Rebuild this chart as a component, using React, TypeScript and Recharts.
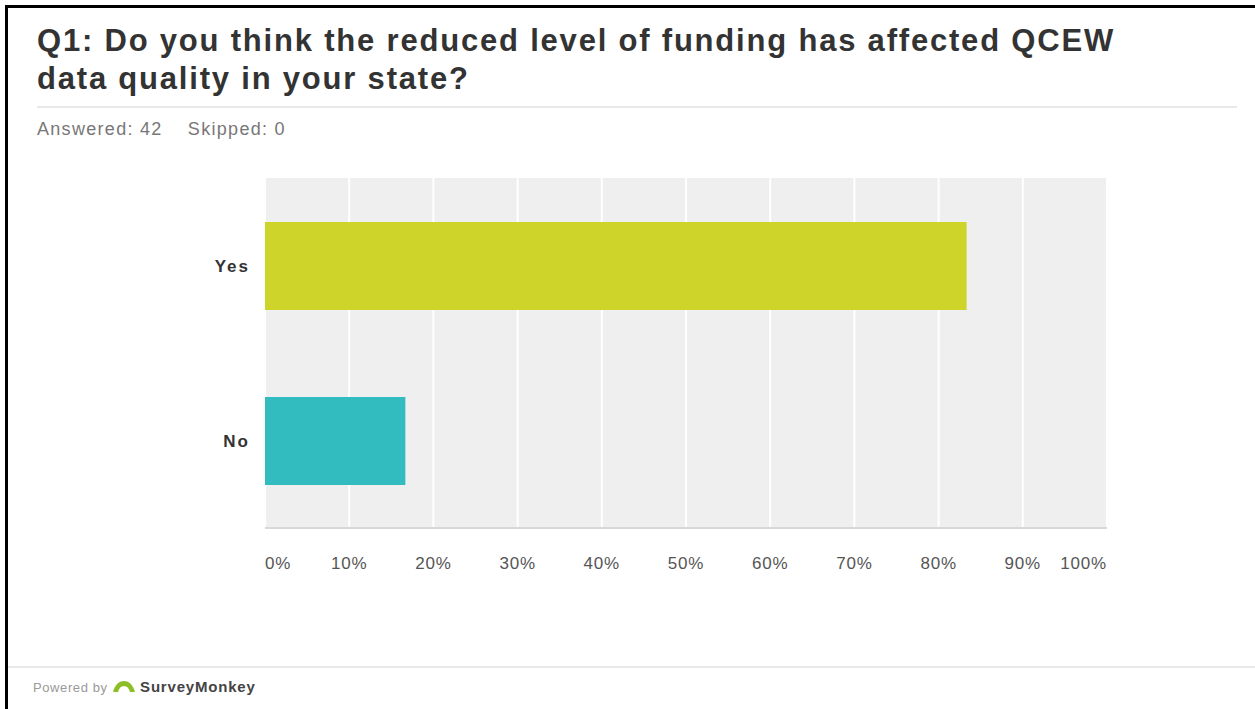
import React from "react";
import { BarChart, Bar, Cell, XAxis, YAxis, CartesianGrid } from "recharts";

const categories = ["Yes", "No"];
const responsePercents = [83.33, 16.67];
const tickValues = [0, 10, 20, 30, 40, 50, 60, 70, 80, 90, 100];
const answered = 42;
const skipped = 0;

const COLORS = ["#ced42a", "#33bcbf"];
const FONT = "'Liberation Sans', Arial, sans-serif";

const chartData = categories.map((name, i) => ({ name, value: responsePercents[i] }));

const PercentTick = ({ x, y, payload }: any) => {
  const v = payload.value;
  const anchor = v === 0 ? "start" : v === 100 ? "end" : "middle";
  return (
    <text
      x={x}
      y={y + 41}
      textAnchor={anchor}
      fontSize={17}
      letterSpacing={0.8}
      fontFamily={FONT}
      fill="#555"
    >
      {`${v}%`}
    </text>
  );
};

const CategoryTick = ({ x, y, payload }: any) => (
  <text
    x={x}
    y={y + 1}
    textAnchor="end"
    dominantBaseline="central"
    fontSize={17}
    fontWeight={700}
    letterSpacing={2}
    fontFamily={FONT}
    fill="#333"
  >
    {payload.value}
  </text>
);

const Logo = () => (
  <svg width={24} height={14} viewBox="0 0 24 14" style={{ verticalAlign: "-2px" }}>
    <path
      d="M1 12 C3 4, 8 1, 12 1 C16 1, 21 4, 23 12 L18 12 C17 8, 15 6, 12 6 C9 6, 7 8, 6 12 Z"
      fill="#8cbf26"
    />
  </svg>
);

export default function App() {
  return (
    <div
      style={{
        position: "absolute",
        left: 0,
        top: 0,
        width: 1255,
        height: 709,
        background: "#fff",
        overflow: "hidden",
        fontFamily: FONT,
      }}
    >
      {/* cropped frame */}
      <div
        style={{
          position: "absolute",
          left: 5,
          top: 5,
          width: 1260,
          height: 720,
          borderLeft: "3px solid #000",
          borderTop: "3px solid #000",
        }}
      />
      <div
        style={{
          position: "absolute",
          left: 37,
          top: 22,
          width: 1210,
          fontSize: 31,
          fontWeight: 700,
          letterSpacing: 1.8,
          lineHeight: "38px",
          color: "#333",
          whiteSpace: "nowrap",
        }}
      >
        Q1: Do you think the reduced level of funding has affected QCEW
        <br />
        data quality in your state?
      </div>
      <div
        style={{
          position: "absolute",
          left: 37,
          top: 106,
          width: 1200,
          height: 2,
          background: "#e8e8e8",
        }}
      />
      <div
        style={{
          position: "absolute",
          left: 37,
          top: 119,
          fontSize: 18,
          letterSpacing: 1.3,
          color: "#777",
          whiteSpace: "pre",
        }}
      >
        {`Answered: ${answered}    Skipped: ${skipped}`}
      </div>

      <div style={{ position: "absolute", left: 0, top: 0 }}>
        <BarChart
          width={1255}
          height={600}
          layout="vertical"
          data={chartData}
          margin={{ top: 178, right: 148, bottom: 32, left: 165 }}
        >
          <CartesianGrid
            horizontal={false}
            stroke="#ffffff"
            strokeWidth={2}
            fill="#efefef"
          />
          <XAxis
            type="number"
            domain={[0, 100]}
            ticks={tickValues}
            interval={0}
            height={40}
            tickLine={false}
            tickSize={0}
            tickMargin={0}
            axisLine={{ stroke: "#d8d8d8", strokeWidth: 2 }}
            tick={<PercentTick />}
          />
          <YAxis
            type="category"
            dataKey="name"
            width={100}
            axisLine={false}
            tickLine={false}
            tickSize={0}
            tickMargin={15}
            tick={<CategoryTick />}
          />
          <Bar dataKey="value" barSize={88} isAnimationActive={false}>
            {chartData.map((_, i) => (
              <Cell key={`cell-${i}`} fill={COLORS[i % COLORS.length]} />
            ))}
          </Bar>
        </BarChart>
      </div>

      <div
        style={{
          position: "absolute",
          left: 8,
          top: 666,
          width: 1247,
          height: 2,
          background: "#e8e8e8",
        }}
      />
      <div
        style={{
          position: "absolute",
          left: 33,
          top: 678,
          fontSize: 13,
          letterSpacing: 0.6,
          color: "#999",
          whiteSpace: "pre",
        }}
      >
        Powered by <Logo />{" "}
        <span style={{ fontWeight: 700, fontSize: 15, letterSpacing: 0.8, color: "#444" }}>
          SurveyMonkey
        </span>
      </div>
    </div>
  );
}
